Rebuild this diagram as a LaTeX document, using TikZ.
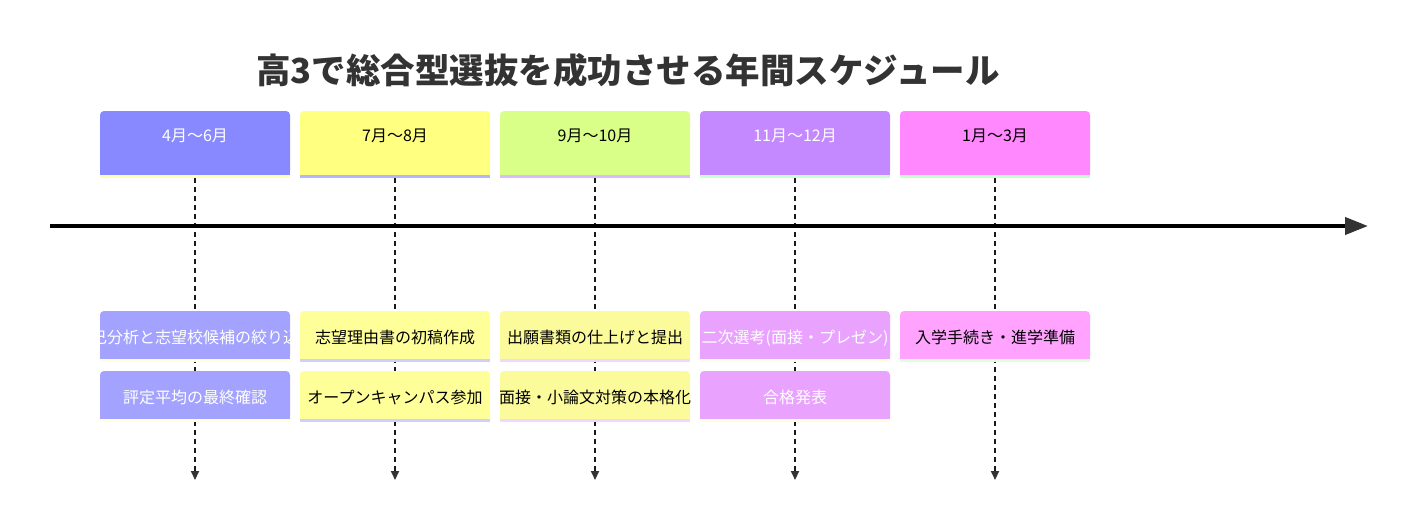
\documentclass[tikz,border=0pt]{standalone}
\usepackage{fontspec}
\setmainfont{Noto Sans CJK JP}
\usetikzlibrary{arrows.meta}
\definecolor{ctitle}{HTML}{333333}
\definecolor{sA}{HTML}{8888FF}\definecolor{sAs}{HTML}{FFFFB0}
\definecolor{sB}{HTML}{FFFF80}\definecolor{sBs}{HTML}{B4B4FF}
\definecolor{sC}{HTML}{D9FF88}\definecolor{sCs}{HTML}{D8BCFF}
\definecolor{sD}{HTML}{C488FF}\definecolor{sDs}{HTML}{C8FFD0}
\definecolor{sE}{HTML}{FF88FF}\definecolor{sEs}{HTML}{C4FFCC}
\definecolor{eA}{HTML}{A3A3FF}\definecolor{eAs}{HTML}{FFFFDD}
\definecolor{eB}{HTML}{FFFF99}\definecolor{eBs}{HTML}{D0D0FF}
\definecolor{eC}{HTML}{FBFB9B}\definecolor{eCs}{HTML}{F0D8FF}
\definecolor{eD}{HTML}{E9A3FF}\definecolor{eDs}{HTML}{FFFFE0}
\definecolor{eE}{HTML}{FFA3FF}\definecolor{eEs}{HTML}{DDFFDD}
\newcommand\tlsec[6]{% name, cx, fill, strip, textcolor, text
  \node[boxbase, fill=#3, minimum height=64pt, anchor=north] (#1) at (#2,111) {};
  \fill[#3] ([yshift=6pt]#1.south west) rectangle (#1.south east);
  \fill[#4] (#1.south west) rectangle ([yshift=-3pt]#1.south east);
  \begin{scope}
    \clip (#1.south west) rectangle (#1.north east);
    \node[boxtext, text=#5, anchor=base] (#1t) at (#2,141) {#6};
  \end{scope}
}
\newcommand\tlev[7]{% name, cx, top, fill, strip, textcolor, text
  \node[boxbase, fill=#4, minimum height=48pt, anchor=north] (#1) at (#2,#3) {};
  \fill[#4] ([yshift=6pt]#1.south west) rectangle (#1.south east);
  \fill[#5] (#1.south west) rectangle ([yshift=-3pt]#1.south east);
  \begin{scope}
    \clip (#1.south west) rectangle (#1.north east);
    \node[boxtext, text=#6, anchor=base] (#1t) at ([yshift=-32pt]#1.north) {#7};
  \end{scope}
}
\begin{document}
\begin{tikzpicture}[x=1pt,y=-1pt,
  boxbase/.style={minimum width=190pt, inner sep=0pt, outer sep=0pt, rounded corners=4pt},
  boxtext/.style={inner sep=0pt, font=\fontsize{16}{19}\selectfont},
  vline/.style={line width=2pt, dash pattern=on 5pt off 4pt, black!90,
    -{Triangle[length=9pt,width=8pt,color=ctitle]}},
  axis/.style={line width=4pt, black, -{Triangle[length=23pt,width=17pt,color=ctitle]}},
]
\useasboundingbox[fill=white] (0,0) rectangle (1415,528);
\node[font=\fontsize{34.5}{40}\selectfont\bfseries, text=ctitle] (title) at (628,70) {高3で総合型選抜を成功させる年間スケジュール};

\tlsec{s1}{195}{sA}{sAs}{white}{4月〜6月}
\tlsec{s2}{395}{sB}{sBs}{black}{7月〜8月}
\tlsec{s3}{595}{sC}{sCs}{black}{9月〜10月}
\tlsec{s4}{795}{sD}{sDs}{white}{11月〜12月}
\tlsec{s5}{995}{sE}{sEs}{black}{1月〜3月}

\foreach \i/\x in {1/195,2/395,3/595,4/795,5/995}{
  \coordinate (v\i) at (\x,480);
  \draw[vline] ([yshift=-3pt]s\i.south) -- (v\i);
}

\coordinate (a0) at (50,226);
\coordinate (a1) at (1368,226);
\draw[axis] (a0) -- (a1);

\tlev{e11}{195}{311}{eA}{eAs}{white}{自己分析と志望校候補の絞り込み}
\tlev{e12}{195}{371}{eA}{eAs}{white}{評定平均の最終確認}
\tlev{e21}{395}{311}{eB}{eBs}{black}{志望理由書の初稿作成}
\tlev{e22}{395}{371}{eB}{eBs}{black}{オープンキャンパス参加}
\tlev{e31}{595}{311}{eC}{eCs}{black}{出願書類の仕上げと提出}
\tlev{e32}{595}{371}{eC}{eCs}{black}{面接・小論文対策の本格化}
\tlev{e41}{795}{311}{eD}{eDs}{white}{二次選考(面接・プレゼン)}
\tlev{e42}{795}{371}{eD}{eDs}{white}{合格発表}
\tlev{e51}{995}{311}{eE}{eEs}{black}{入学手続き・進学準備}
\end{tikzpicture}
\end{document}
